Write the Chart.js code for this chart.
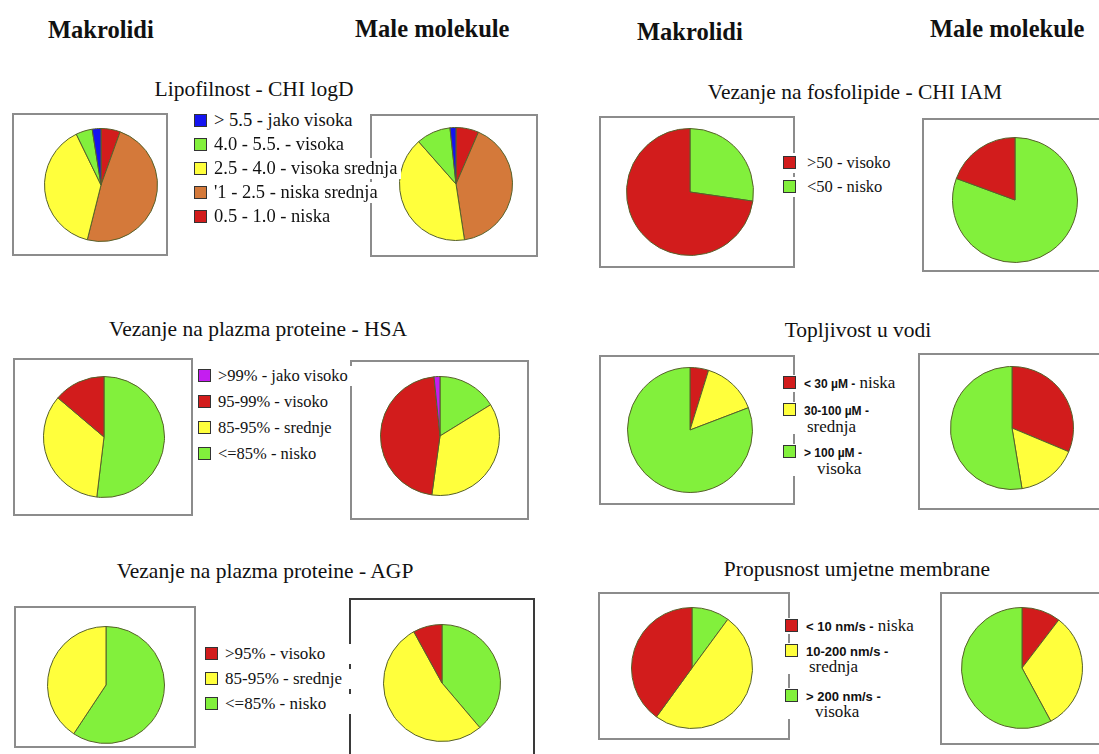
<!DOCTYPE html>
<html>
<head>
<meta charset="utf-8">
<script src="https://cdn.jsdelivr.net/npm/chart.js@4.4.1/dist/chart.umd.min.js"></script>
<style>
  body { margin: 0; background: #fff; width: 1099px; height: 754px; position: relative; overflow: hidden; font-family: "Liberation Serif", "Times New Roman", Times, serif; color: #111; }
  .hdr { position: absolute; font-weight: bold; font-size: 24.5px; white-space: nowrap; }
  .ttl { position: absolute; font-size: 21.5px; white-space: nowrap; transform: translateX(-50%); }
  .box { position: absolute; border: 2px solid #8c8c8c; box-sizing: border-box; background: #fff; }
  .pie { position: absolute; z-index: 2; }
  .leg { position: absolute; z-index: 3; }
  .leg .it { position: absolute; white-space: nowrap; background: #fff; padding-right: 4px; }
  .leg .sw { display: inline-block; width: 11px; height: 11px; border: 1px solid #333; vertical-align: -1px; margin-right: 7px; }
  .leg .b { font-family: "Liberation Sans", Arial, sans-serif; font-weight: bold; }
</style>
</head>
<body>
<div class="hdr" style="left:48px;top:16px">Makrolidi</div>
<div class="hdr" style="left:355px;top:15px">Male molekule</div>
<div class="hdr" style="left:637px;top:18px">Makrolidi</div>
<div class="hdr" style="left:930px;top:15px">Male molekule</div>

<script>
// ---- data (values in legend order) ----
const RED = '#d21c1c', GREEN = '#82f03c', YELLOW = '#ffff3c', ORANGE = '#d4793a', BLUE = '#1414f0', PURPLE = '#c41ef0';

const lipoLabels = ['> 5.5 - jako visoka', '4.0 - 5.5. - visoka', '2.5 - 4.0 - visoka srednja', "'1 - 2.5 - niska srednja", '0.5 - 1.0 - niska'];
const lipoColors = [BLUE, GREEN, YELLOW, ORANGE, RED];
const lipoMakrolidi = [2.5, 4.7, 38.9, 48.4, 5.5];
const lipoMale = [1.7, 9.8, 40.9, 41.1, 6.5];

const hsaLabels = ['>99% - jako visoko', '95-99% - visoko', '85-95% - srednje', '<=85% - nisko'];
const hsaColors = [PURPLE, RED, YELLOW, GREEN];
const hsaMakrolidi = [0, 13.8, 34.3, 51.9];
const hsaMale = [1.6, 46.2, 36.0, 16.2];

const agpLabels = ['>95% - visoko', '85-95% - srednje', '<=85% - nisko'];
const agpColors = [RED, YELLOW, GREEN];
const agpMakrolidi = [0, 40.7, 59.3];
const agpMale = [8.0, 53.2, 38.8];

const iamLabels = ['>50 - visoko', '<50 - nisko'];
const iamColors = [RED, GREEN];
const iamMakrolidi = [72.7, 27.3];
const iamMale = [19.4, 80.6];

const topLabels = ['< 30 µM - niska', '30-100 µM - srednja', '> 100 µM - visoka'];
const topColors = [RED, YELLOW, GREEN];
const topMakrolidi = [4.8, 14.4, 80.8];
const topMale = [31.3, 16.1, 52.6];

const propLabels = ['< 10 nm/s - niska', '10-200 nm/s - srednja', '> 200 nm/s - visoka'];
const propColors = [RED, YELLOW, GREEN];
const propMakrolidi = [40.0, 49.9, 10.1];
const propMale = [10.4, 31.7, 57.9];

// ---- layout ----
function esc(s) {
    return s.replace(/&/g, '&amp;').replace(/</g, '&lt;').replace(/>/g, '&gt;');
}

function el(cls, css, html) {
    const d = document.createElement('div');
    d.className = cls;
    Object.assign(d.style, css);
    if (html !== undefined) d.innerHTML = html;
    document.body.appendChild(d);
    return d;
}

function title(text, cx, y) {
    el('ttl', { left: cx + 'px', top: y + 'px' }, esc(text));
}

function box(x1, y1, x2, y2, color) {
    const b = el('box', { left: x1 + 'px', top: y1 + 'px', width: (x2 - x1) + 'px', height: (y2 - y1) + 'px' });
    if (color) b.style.borderColor = color;
}

// clockwise = slices go round in legend order, otherwise reversed
function pie(cx, cy, r, labels, colors, values, clockwise) {
    const size = 2 * r + 4;
    const d = el('pie', { left: (cx - size / 2) + 'px', top: (cy - size / 2) + 'px', width: size + 'px', height: size + 'px' });
    const c = document.createElement('canvas');
    d.appendChild(c);
    const order = clockwise ? labels.map((_, i) => i) : labels.map((_, i) => labels.length - 1 - i);
    new Chart(c.getContext('2d'), {
        type: 'pie',
        data: {
            labels: order.map(i => labels[i]),
            datasets: [{
                data: order.map(i => values[i]),
                backgroundColor: order.map(i => colors[i]),
                borderColor: '#56602a',
                borderWidth: 1
            }]
        },
        options: {
            responsive: true,
            maintainAspectRatio: false,
            animation: false,
            layout: { padding: 1 },
            plugins: { legend: { display: false }, tooltip: { enabled: false } }
        }
    });
}

// rows: list of [top, html]
function legend(x, rows, colors, opts) {
    const g = el('leg', { left: x + 'px', top: '0px', fontSize: opts.size + 'px' });
    rows.forEach((row, i) => {
        const it = document.createElement('div');
        it.className = 'it';
        it.style.top = row[0] + 'px';
        if (opts.lh) it.style.lineHeight = opts.lh + 'px';
        if (opts.minW) it.style.minWidth = opts.minW + 'px';
        it.innerHTML = '<span class="sw" style="background:' + colors[i] + (opts.gap ? ';margin-right:' + opts.gap + 'px' : '') + '"></span>' + row[1];
        g.appendChild(it);
    });
}

function boldHead(label, wrap, indent, bsize) {
    const k = label.indexOf(' - ');
    const head = '<span class="b" style="font-size:' + bsize + 'px">' + esc(label.slice(0, k)) + ' -</span>';
    const tail = esc(label.slice(k + 3));
    return wrap ? head + '<br><span style="padding-left:' + indent + 'px">' + tail + '</span>' : head + ' ' + tail;
}

// Lipofilnost
title('Lipofilnost - CHI logD', 254, 77);
box(12, 113, 168, 256);
pie(101, 185, 56, lipoLabels, lipoColors, lipoMakrolidi, false);
legend(194, lipoLabels.map((t, i) => [110 + i * 24, esc(t)]), lipoColors, { size: 18.5 });
box(370, 114, 538, 257);
pie(456, 184, 56, lipoLabels, lipoColors, lipoMale, false);

// HSA
title('Vezanje na plazma proteine - HSA', 258, 317);
box(13, 358, 193, 516);
pie(104, 437, 60, hsaLabels, hsaColors, hsaMakrolidi, false);
legend(198, hsaLabels.map((t, i) => [366 + i * 26, esc(t)]), hsaColors, { size: 16.5 });
box(350, 360, 529, 520);
pie(440, 436, 59, hsaLabels, hsaColors, hsaMale, false);

// AGP
title('Vezanje na plazma proteine - AGP', 265, 559);
box(14, 606, 196, 748);
pie(106, 685, 58, agpLabels, agpColors, agpMakrolidi, false);
legend(205, agpLabels.map((t, i) => [644 + i * 25, esc(t)]), agpColors, { size: 17, minW: 148 });
box(349, 598, 535, 770, '#3a3a3a');
pie(442, 683, 58, agpLabels, agpColors, agpMale, false);

// CHI IAM
title('Vezanje na fosfolipide - CHI IAM', 855, 80);
box(599, 116, 795, 268);
pie(690, 192, 63, iamLabels, iamColors, iamMakrolidi, false);
legend(783, iamLabels.map((t, i) => [153 + i * 24, esc(t)]), iamColors, { size: 16.5, gap: 11 });
box(922, 118, 1110, 272);
pie(1015, 200, 62, iamLabels, iamColors, iamMale, false);

// Topljivost
title('Topljivost u vodi', 858, 318);
box(599, 355, 795, 505);
pie(690, 430, 62, topLabels, topColors, topMakrolidi, true);
legend(783, [[375, boldHead(topLabels[0], false, 0, 12)], [402, boldHead(topLabels[1], true, 24, 12)], [444, boldHead(topLabels[2], true, 34, 12)]], topColors, { size: 17, lh: 15, gap: 8 });
box(918, 353, 1110, 510);
pie(1012, 428, 61, topLabels, topColors, topMale, true);

// Propusnost
title('Propusnost umjetne membrane', 857, 557);
box(598, 592, 790, 740);
pie(692, 668, 60, propLabels, propColors, propMakrolidi, false);
legend(785, [[618, boldHead(propLabels[0], false, 0, 13)], [643, boldHead(propLabels[1], true, 24, 13)], [688, boldHead(propLabels[2], true, 30, 13)]], propColors, { size: 17, lh: 15, gap: 8 });
box(940, 592, 1110, 745);
pie(1022, 668, 60, propLabels, propColors, propMale, true);
</script>
</body>
</html>
